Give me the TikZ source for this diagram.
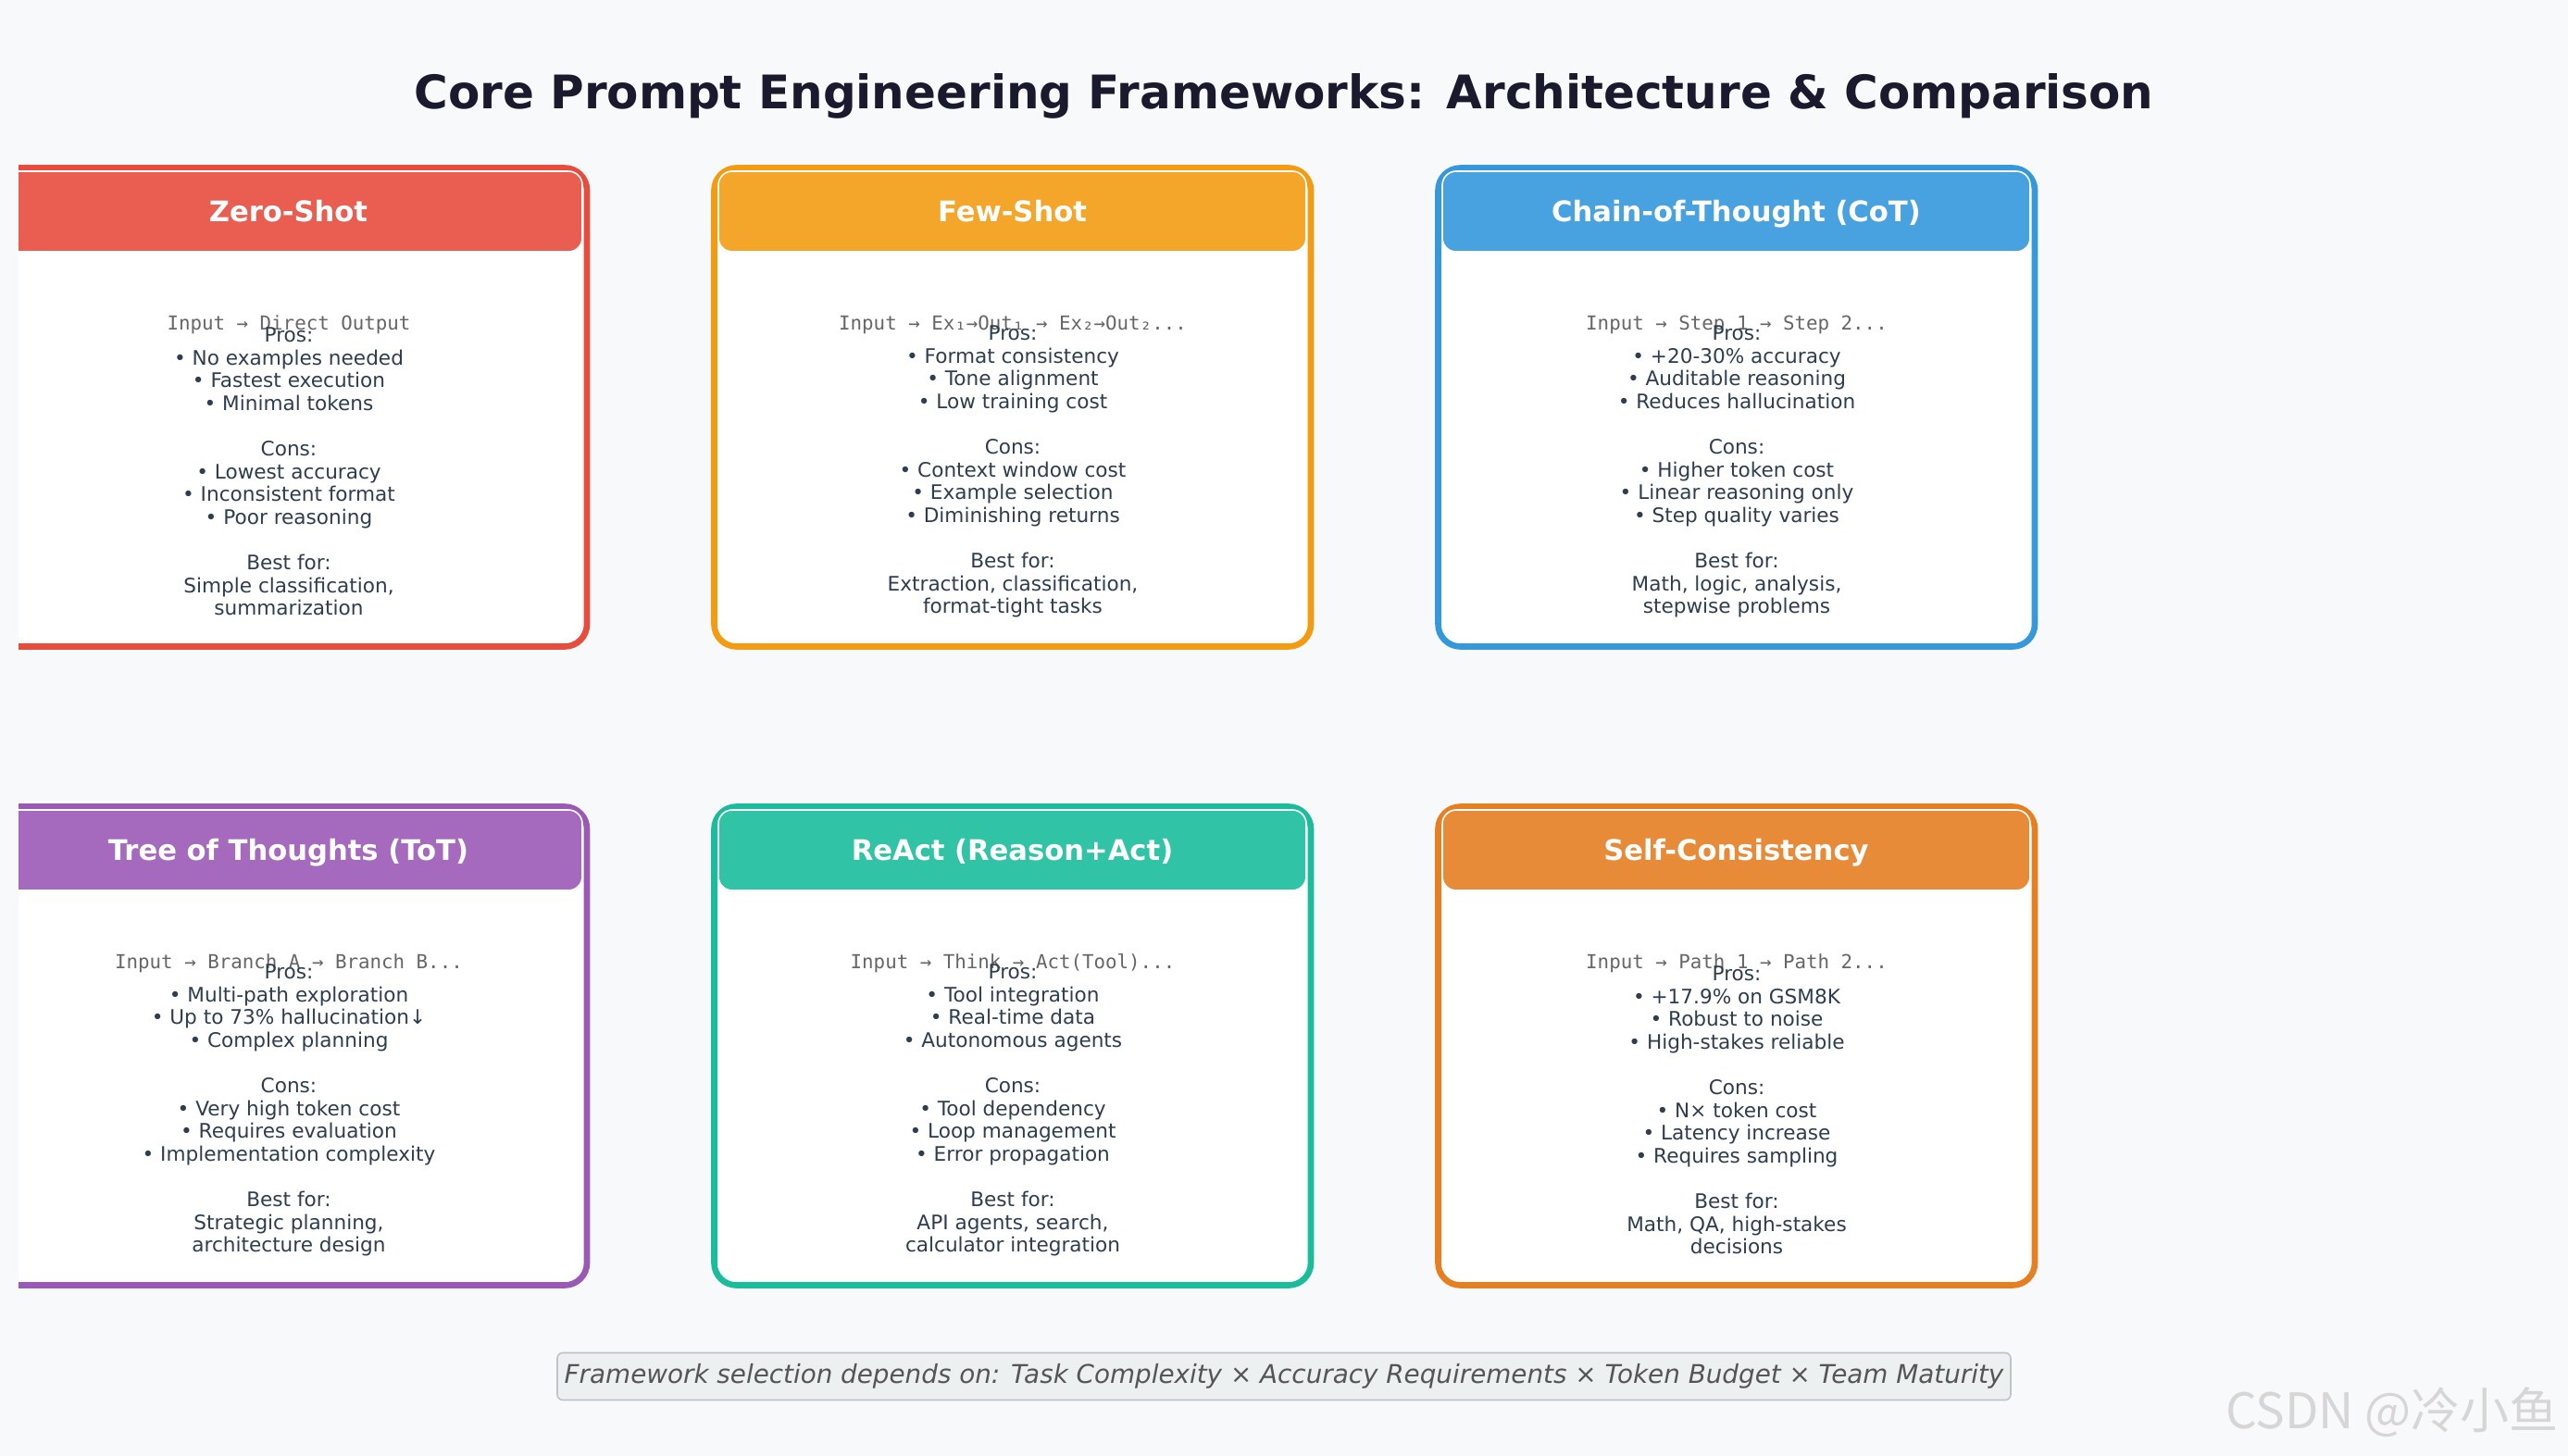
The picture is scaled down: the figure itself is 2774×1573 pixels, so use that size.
\documentclass[tikz,border=0pt]{standalone}
\usepackage{fontspec}
\setmainfont{DejaVu Sans}
\setmonofont{DejaVu Sans Mono}
\newfontfamily\cjkfont{Noto Sans CJK SC}
\usepackage{xcolor}
\usetikzlibrary{positioning}

\definecolor{pagebg}{HTML}{F8F9FA}
\definecolor{titleink}{HTML}{1A1A2E}
\definecolor{bodyink}{HTML}{2C3E50}
\definecolor{flowink}{HTML}{666666}
\definecolor{noteink}{HTML}{555555}
\definecolor{notefill}{HTML}{ECF0F1}
\definecolor{noteline}{HTML}{BDC3C7}
\definecolor{markgray}{HTML}{D6D6D6}
\definecolor{zsred}{HTML}{E74C3C}
\definecolor{fsorange}{HTML}{F39C12}
\definecolor{cotblue}{HTML}{3498DB}
\definecolor{totpurple}{HTML}{9B59B6}
\definecolor{reactteal}{HTML}{1ABC9C}
\definecolor{scorange}{HTML}{E67E22}

\begin{document}
\begin{tikzpicture}[x=0.5pt,y=-0.5pt,
  cardframe/.style={line width=3.3pt,fill=white,rounded corners=12pt},
  cardhead/.style={draw=white,line width=0.8pt,rounded corners=7.5pt,
    minimum width=317.5pt,minimum height=43.5pt,inner sep=0pt,text=white,
    text height=11pt,text depth=0pt,
    font=\fontsize{15.3}{18}\selectfont\bfseries},
  flowline/.style={inner sep=0pt,text=flowink,
    font=\ttfamily\fontsize{10.4}{12}\selectfont},
  bodytext/.style={inner sep=0pt,align=center,text=bodyink,
    font=\fontsize{10.8}{12.3}\selectfont}]
  % page: 2774 x 1573 px, one px = 0.5pt
  \useasboundingbox (0,0) rectangle (2774,1573);
  \fill[pagebg] (0,0) rectangle (2774,1573);
  \node[font=\bfseries\fontsize{25}{30}\selectfont,text=titleink] (title) at (1387,104)
    {Core Prompt Engineering Frameworks: Architecture \& Comparison};

  % first column is cut at the left edge
  \begin{scope}
    \clip (20,160) rectangle (720,1420);
    \draw[cardframe,draw=zsred] (-10.5,181.5) rectangle (634,698.5);
    \node[cardhead,fill=zsred!90!white] (zshead) at (311.5,228.5) {Zero-Shot};
    \draw[cardframe,draw=totpurple] (-10.5,871.5) rectangle (634,1388.5);
    \node[cardhead,fill=totpurple!90!white] (tothead) at (311.5,918.5) {Tree of Thoughts (ToT)};
  \end{scope}
  \node[flowline] (zsflow) at (312,351) {Input → Direct Output};
  \node[bodytext] (zsbody) at (312,509.5)
    {Pros:\\ • No examples needed\\ • Fastest execution\\ • Minimal tokens\\[12.3pt]
     Cons:\\ • Lowest accuracy\\ • Inconsistent format\\ • Poor reasoning\\[12.3pt]
     Best for:\\ Simple classification,\\ summarization};
  \node[flowline] (totflow) at (312,1041) {Input → Branch A → Branch B...};
  \node[bodytext] (totbody) at (312,1199.5)
    {Pros:\\ • Multi-path exploration\\ • Up to 73\% hallucination↓\\ • Complex planning\\[12.3pt]
     Cons:\\ • Very high token cost\\ • Requires evaluation\\ • Implementation complexity\\[12.3pt]
     Best for:\\ Strategic planning,\\ architecture design};

  \draw[cardframe,draw=fsorange] (771.5,181.5) rectangle (1416,698.5);
  \node[cardhead,fill=fsorange!90!white] (fshead) at (1093.5,228.5) {Few-Shot};
  \node[flowline] (fsflow) at (1094,351) {Input → Ex₁→Out₁ → Ex₂→Out₂...};
  \node[bodytext] (fsbody) at (1094,509.5)
    {Pros:\\ • Format consistency\\ • Tone alignment\\ • Low training cost\\[12.3pt]
     Cons:\\ • Context window cost\\ • Example selection\\ • Diminishing returns\\[12.3pt]
     Best for:\\ Extraction, classification,\\ format-tight tasks};

  \draw[cardframe,draw=reactteal] (771.5,871.5) rectangle (1416,1388.5);
  \node[cardhead,fill=reactteal!90!white] (reacthead) at (1093.5,918.5) {ReAct (Reason+Act)};
  \node[flowline] (reactflow) at (1094,1041) {Input → Think → Act(Tool)...};
  \node[bodytext] (reactbody) at (1094,1199.5)
    {Pros:\\ • Tool integration\\ • Real-time data\\ • Autonomous agents\\[12.3pt]
     Cons:\\ • Tool dependency\\ • Loop management\\ • Error propagation\\[12.3pt]
     Best for:\\ API agents, search,\\ calculator integration};

  \draw[cardframe,draw=cotblue] (1553.5,181.5) rectangle (2198,698.5);
  \node[cardhead,fill=cotblue!90!white] (cothead) at (1875.5,228.5) {Chain-of-Thought (CoT)};
  \node[flowline] (cotflow) at (1876,351) {Input → Step 1 → Step 2...};
  \node[bodytext] (cotbody) at (1876,509.5)
    {Pros:\\ • +20-30\% accuracy\\ • Auditable reasoning\\ • Reduces hallucination\\[12.3pt]
     Cons:\\ • Higher token cost\\ • Linear reasoning only\\ • Step quality varies\\[12.3pt]
     Best for:\\ Math, logic, analysis,\\ stepwise problems};

  \draw[cardframe,draw=scorange] (1553.5,871.5) rectangle (2198,1388.5);
  \node[cardhead,fill=scorange!90!white] (schead) at (1875.5,918.5) {Self-Consistency};
  \node[flowline] (scflow) at (1876,1041) {Input → Path 1 → Path 2...};
  \node[bodytext] (scbody) at (1876,1199.5)
    {Pros:\\ • +17.9\% on GSM8K\\ • Robust to noise\\ • High-stakes reliable\\[12.3pt]
     Cons:\\ • N× token cost\\ • Latency increase\\ • Requires sampling\\[12.3pt]
     Best for:\\ Math, QA, high-stakes\\ decisions};

  \node[draw=noteline,fill=notefill,line width=0.8pt,rounded corners=3pt,
        minimum width=785pt,minimum height=25.5pt,inner sep=0pt,text=noteink,
        font=\itshape\fontsize{13.9}{16}\selectfont] (selnote) at (1387,1487)
    {Framework selection depends on: Task Complexity × Accuracy Requirements × Token Budget × Team Maturity};
  \node[font=\cjkfont\fontsize{26.5}{30}\selectfont,text=markgray] (mark) at (2584,1526) {CSDN @冷小鱼};
\end{tikzpicture}
\end{document}
